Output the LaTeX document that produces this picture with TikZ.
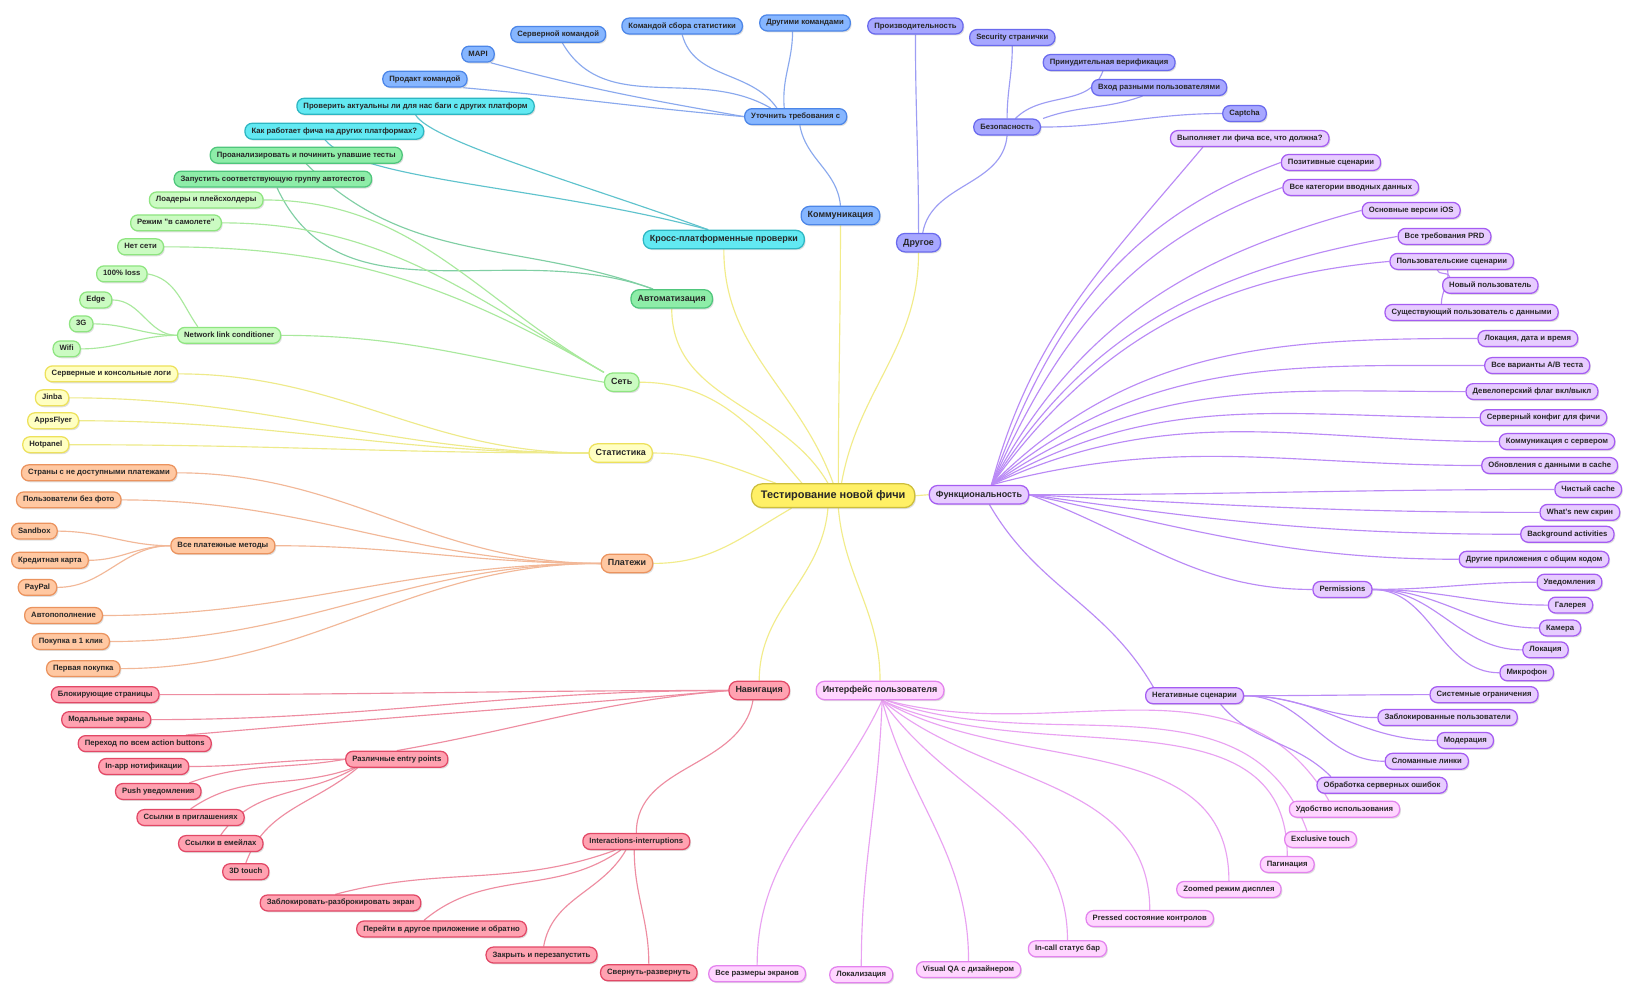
\documentclass[tikz,border=0pt]{standalone}
\usepackage{fontspec}
\setmainfont{Liberation Sans}
\usepackage{tikz}
\usetikzlibrary{shadows, backgrounds}

\newcommand{\leafsize}{\fontsize{7.4}{8.5}\selectfont\bfseries}
\newcommand{\topicsize}{\fontsize{8.6}{10}\selectfont\bfseries}
\newcommand{\rootsize}{\fontsize{10.5}{12}\selectfont\bfseries}

\begin{document}
\begin{tikzpicture}[x=1pt, y=1pt,
  box/.style={rounded corners=7pt, line width=1.2pt, inner xsep=6.3pt, inner ysep=4.2pt,
    text height=5.4pt, text depth=1.5pt, text=black!85, font=\leafsize,
    drop shadow={shadow xshift=1.2pt, shadow yshift=-1.4pt, opacity=.25}},
  topic/.style={font=\topicsize, rounded corners=8pt, inner ysep=4.8pt, text height=6.3pt, text depth=1.8pt},
  rootBox/.style={box, font=\rootsize, fill=rootBg, draw=rootFg, rounded corners=10pt,
    inner xsep=9pt, inner ysep=6.5pt, text height=7.6pt, text depth=2.2pt},
  commBox/.style={box, fill=commBg, draw=commFg},
  crossBox/.style={box, fill=crossBg, draw=crossFg},
  autoBox/.style={box, fill=autoBg, draw=autoFg},
  netBox/.style={box, fill=netBg, draw=netFg},
  statBox/.style={box, fill=statBg, draw=statFg},
  payBox/.style={box, fill=payBg, draw=payFg},
  navBox/.style={box, fill=navBg, draw=navFg},
  uiBox/.style={box, fill=uiBg, draw=uiFg},
  funcBox/.style={box, fill=funcBg, draw=funcFg},
  otherBox/.style={box, fill=otherBg, draw=otherFg},
  rootLine/.style={draw=rootLn, line width=1.1pt},
  commLine/.style={draw=commLn, line width=1.1pt},
  crossLine/.style={draw=crossLn, line width=1.1pt},
  autoLine/.style={draw=autoLn, line width=1.1pt},
  netLine/.style={draw=netLn, line width=1.1pt},
  statLine/.style={draw=statLn, line width=1.1pt},
  payLine/.style={draw=payLn, line width=1.1pt},
  navLine/.style={draw=navLn, line width=1.1pt},
  uiLine/.style={draw=uiLn, line width=1.1pt},
  funcLine/.style={draw=funcLn, line width=1.1pt},
  otherLine/.style={draw=otherLn, line width=1.1pt}]
\definecolor{rootBg}{HTML}{FFF066}  \definecolor{rootFg}{HTML}{CDBE3C}  \definecolor{rootLn}{HTML}{F2EC8A}
\definecolor{commBg}{HTML}{86B6FF}  \definecolor{commFg}{HTML}{4C86E8}  \definecolor{commLn}{HTML}{8AA9EE}
\definecolor{crossBg}{HTML}{62E9F2} \definecolor{crossFg}{HTML}{2DB6C2} \definecolor{crossLn}{HTML}{5FC3CD}
\definecolor{autoBg}{HTML}{8EEDA8}  \definecolor{autoFg}{HTML}{4FC67C}  \definecolor{autoLn}{HTML}{80CFA4}
\definecolor{netBg}{HTML}{CBFBC2}   \definecolor{netFg}{HTML}{8EE580}   \definecolor{netLn}{HTML}{A9E99D}
\definecolor{statBg}{HTML}{FFFFC2}  \definecolor{statFg}{HTML}{EDE15B}  \definecolor{statLn}{HTML}{EEEA8A}
\definecolor{payBg}{HTML}{FFC8A2}   \definecolor{payFg}{HTML}{EB935E}   \definecolor{payLn}{HTML}{F2B898}
\definecolor{navBg}{HTML}{FFA2B1}   \definecolor{navFg}{HTML}{E24866}   \definecolor{navLn}{HTML}{EE8DA1}
\definecolor{uiBg}{HTML}{FFD5FF}    \definecolor{uiFg}{HTML}{E383EE}    \definecolor{uiLn}{HTML}{E9A2F2}
\definecolor{funcBg}{HTML}{E7CCFF}  \definecolor{funcFg}{HTML}{A55CF2}  \definecolor{funcLn}{HTML}{BA8AF6}
\definecolor{otherBg}{HTML}{A7A7FF} \definecolor{otherFg}{HTML}{6A6AEE} \definecolor{otherLn}{HTML}{9D9DF4}
\useasboundingbox (0,0) rectangle (1568,-953);

% root and main topics
\node[rootBox] (root) at (800,-476) {Тестирование новой фичи};
\node[commBox, topic] (comm) at (807,-207) {Коммуникация};
\node[crossBox, topic] (cross) at (695,-230) {Кросс-платформенные проверки};
\node[autoBox, topic] (autom) at (645,-287) {Автоматизация};
\node[netBox, topic] (net) at (597,-367) {Сеть};
\node[statBox, topic] (stat) at (596,-435) {Статистика};
\node[payBox, topic] (pay) at (602,-541) {Платежи};
\node[navBox, topic] (nav) at (729,-663) {Навигация};
\node[uiBox, topic] (ui) at (845,-663) {Интерфейс пользователя};
\node[funcBox, topic] (func) at (940,-475) {Функциональность};
\node[otherBox, topic] (other) at (882,-233) {Другое};

% communication
\node[commBox] (utoch) at (764,-112) {Уточнить требования с};
\node[commBox] (srvteam) at (536,-33) {Серверной командой};
\node[commBox] (statteam) at (655,-25) {Командой сбора статистики};
\node[commBox] (otherteams) at (773,-22) {Другими командами};
\node[commBox] (mapi) at (459,-52) {MAPI};
\node[commBox] (prodteam) at (408,-76) {Продакт командой};

% cross-platform, automation
\node[crossBox] (chk) at (399,-102) {Проверить актуальны ли для нас баги с других платформ};
\node[crossBox] (how) at (321,-126) {Как работает фича на других платформах?};
\node[autoBox] (analyze) at (294,-149) {Проанализировать и починить упавшие тесты};
\node[autoBox] (launch) at (262,-172) {Запустить соответствующую группу автотестов};

% network
\node[netBox] (loaders) at (198,-192) {Лоадеры и плейсхолдеры};
\node[netBox] (plane) at (169,-214) {Режим "в самолете"};
\node[netBox] (nonet) at (135,-237) {Нет сети};
\node[netBox] (nlc) at (220,-322) {Network link conditioner};
\node[netBox] (loss) at (117,-263) {100\% loss};
\node[netBox] (sEdge) at (92,-288) {Edge};
\node[netBox] (g3) at (78,-311) {3G};
\node[netBox] (wifi) at (64,-335) {Wifi};

% statistics
\node[statBox] (logs) at (107,-359) {Серверные и консольные логи};
\node[statBox] (jinba) at (50,-382) {Jinba};
\node[statBox] (apps) at (51,-404) {AppsFlyer};
\node[statBox] (hotp) at (44,-427) {Hotpanel};

% payments
\node[payBox] (countries) at (95,-454) {Страны с не доступными платежами};
\node[payBox] (nophoto) at (66,-480) {Пользователи без фото};
\node[payBox] (methods) at (214,-524) {Все платежные методы};
\node[payBox] (sandbox) at (33,-510) {Sandbox};
\node[payBox] (card) at (48,-538) {Кредитная карта};
\node[payBox] (paypal) at (36,-564) {PayPal};
\node[payBox] (autopay) at (61,-591) {Автопополнение};
\node[payBox] (oneclick) at (68,-616) {Покупка в 1 клик};
\node[payBox] (firstbuy) at (80,-642) {Первая покупка};

% navigation
\node[navBox] (blocking) at (101,-667) {Блокирующие страницы};
\node[navBox] (modal) at (102,-691) {Модальные экраны};
\node[navBox] (actions) at (139,-714) {Переход по всем action buttons};
\node[navBox] (entry) at (381,-729) {Различные entry points};
\node[navBox] (inapp) at (138,-736) {In-app нотификации};
\node[navBox] (push) at (152,-760) {Push уведомления};
\node[navBox] (invite) at (183,-785) {Ссылки в приглашениях};
\node[navBox] (email) at (212,-810) {Ссылки в емейлах};
\node[navBox] (touch) at (236,-837) {3D touch};
\node[navBox] (inter) at (611,-808) {Interactions-interruptions};
\node[navBox] (lockscr) at (327,-867) {Заблокировать-разброкировать экран};
\node[navBox] (switchapp) at (424,-892) {Перейти в другое приложение и обратно};
\node[navBox] (restart) at (520,-917) {Закрыть и перезапустить};
\node[navBox] (minim) at (623,-934) {Свернуть-развернуть};

% user interface
\node[uiBox] (sizes) at (727,-935) {Все размеры экранов};
\node[uiBox] (locz) at (827,-936) {Локализация};
\node[uiBox] (vqa) at (930,-931) {Visual QA с дизайнером};
\node[uiBox] (incall) at (1025,-911) {In-call статус бар};
\node[uiBox] (pressed) at (1104,-882) {Pressed состояние контролов};
\node[uiBox] (zoomed) at (1180,-854) {Zoomed режим дисплея};
\node[uiBox] (pagin) at (1236,-830) {Пагинация};
\node[uiBox] (excl) at (1268,-806) {Exclusive touch};
\node[uiBox] (usab) at (1291,-777) {Удобство использования};

% functionality
\node[funcBox] (does) at (1200,-133) {Выполняет ли фича все, что должна?};
\node[funcBox] (positive) at (1278,-156) {Позитивные сценарии};
\node[funcBox] (inputs) at (1297,-180) {Все категории вводных данных};
\node[funcBox] (ios) at (1355,-202) {Основные версии iOS};
\node[funcBox] (prd) at (1387,-227) {Все требования PRD};
\node[funcBox] (userscen) at (1394,-251) {Пользовательские сценарии};
\node[funcBox] (newuser) at (1431,-274) {Новый пользователь};
\node[funcBox] (olduser) at (1413,-300) {Существующий пользователь с данными};
\node[funcBox] (locdt) at (1467,-325) {Локация, дата и время};
\node[funcBox] (abtest) at (1476,-351) {Все варианты A/B теста};
\node[funcBox] (devflag) at (1471,-376) {Девелоперский флаг вкл/выкл};
\node[funcBox] (srvcfg) at (1482,-401) {Серверный конфиг для фичи};
\node[funcBox] (srvcomm) at (1495,-424) {Коммуникация с сервером};
\node[funcBox] (cacheupd) at (1488,-447) {Обновления с данными в cache};
\node[funcBox] (cleancache) at (1525,-470) {Чистый cache};
\node[funcBox] (whatsnew) at (1517,-492) {What's new скрин};
\node[funcBox] (bgact) at (1505,-513) {Background activities};
\node[funcBox] (sharedcode) at (1473,-537) {Другие приложения с общим кодом};
\node[funcBox] (perm) at (1289,-566) {Permissions};
\node[funcBox] (notif) at (1507,-559) {Уведомления};
\node[funcBox] (gallery) at (1508,-581) {Галерея};
\node[funcBox] (camera) at (1498,-603) {Камера};
\node[funcBox] (geoloc) at (1484,-624) {Локация};
\node[funcBox] (mic) at (1466,-646) {Микрофон};
\node[funcBox] (neg) at (1147,-668) {Негативные сценарии};
\node[funcBox] (syslim) at (1425,-667) {Системные ограничения};
\node[funcBox] (blocked) at (1390,-689) {Заблокированные пользователи};
\node[funcBox] (moder) at (1407,-711) {Модерация};
\node[funcBox] (broken) at (1370,-731) {Сломанные линки};
\node[funcBox] (srverr) at (1327,-754) {Обработка серверных ошибок};

% other
\node[otherBox] (perf) at (879,-25) {Производительность};
\node[otherBox] (secpage) at (972,-36) {Security странички};
\node[otherBox] (sec) at (967,-122) {Безопасность};
\node[otherBox] (forcever) at (1065,-60) {Принудительная верификация};
\node[otherBox] (multiuser) at (1113,-84) {Вход разными пользователями};
\node[otherBox] (captcha) at (1195,-109) {Captcha};

\begin{scope}[on background layer]
\fill[white] (0,0) rectangle (1568,-953);

% from the root
\draw[rootLine] ([xshift=5]root.north) to[out=90,in=-90] (comm.south);
\draw[rootLine] (root.north) to[out=110,in=-90] (cross.south);
\draw[rootLine] ([xshift=-5]root.north) to[out=120,in=-90] (autom.south);
\draw[rootLine] ([xshift=8]root.north) to[out=80,in=-90] (other.south);
\draw[rootLine] ([xshift=-30]root.north) to[out=130,in=0] (net.east);
\draw[rootLine] ([xshift=-55]root.north) to[out=160,in=0] (stat.east);
\draw[rootLine] ([xshift=-40]root.south) to[out=-150,in=0] (pay.east);
\draw[rootLine] ([xshift=-5]root.south) to[out=-95,in=90] (nav.north);
\draw[rootLine] ([xshift=5]root.south) to[out=-85,in=90] (ui.north);
\draw[rootLine] (root.east) -- (func.west);

% communication
\draw[commLine] (comm.north) to[out=95,in=-80] ([xshift=4]utoch.south);
\draw[commLine] ([xshift=-11]utoch.north) to[out=95,in=-90] ([xshift=-12]otherteams.south);
\draw[commLine] ([xshift=-18]utoch.north) to[out=125,in=-75] (statteam.south);
\draw[commLine] ([xshift=-24]utoch.north) to[out=150,in=-60] ([xshift=4]srvteam.south);
\draw[commLine] (utoch.west) to[out=170,in=-15] ([xshift=-4]mapi.south east);
\draw[commLine] (utoch.west) to[out=175,in=-5] ([xshift=-4]prodteam.south east);

% cross-platform, automation
\draw[crossLine] ([xshift=-15]cross.north) to[out=160,in=-60,out looseness=1.1,in looseness=0.25] (chk.south);
\draw[crossLine] ([xshift=-15]cross.north) to[out=165,in=-50,out looseness=1.1,in looseness=0.35] ([xshift=-9]how.south);
\draw[autoLine] ([xshift=-18]autom.north) to[out=160,in=-45] (analyze.south);
\draw[autoLine] ([xshift=-18]autom.north) to[out=160,in=-65] ([xshift=4]launch.south);

% network
\foreach \c in {loaders,plane,nonet}
  \draw[netLine] (net.north west) to[out=150,in=0] (\c.east);
\draw[netLine] (net.west) to[out=170,in=0] (nlc.east);
\draw[netLine] ([xshift=20]nlc.north west) to[out=125,in=-10] (loss.east);
\foreach \c in {sEdge,g3,wifi}
  \draw[netLine] (nlc.west) to[out=180,in=0] (\c.east);

% statistics, payments
\foreach \c in {logs,jinba,apps,hotp}
  \draw[statLine] (stat.west) to[out=180,in=0] (\c.east);
\foreach \c in {countries,nophoto,methods,autopay,oneclick,firstbuy}
  \draw[payLine] (pay.west) to[out=180,in=0] (\c.east);
\foreach \c in {sandbox,card,paypal}
  \draw[payLine] (methods.west) to[out=180,in=0] (\c.east);

% navigation
\foreach \c in {blocking,modal}
  \draw[navLine] (nav.west) to[out=180,in=0] (\c.east);
\draw[navLine] (nav.west) to[out=185,in=5] ([xshift=-25]actions.north east);
\draw[navLine] (nav.west) to[out=185,in=10] (entry.north);
\draw[navLine] ([xshift=-6]nav.south) to[out=-100,in=90] (inter.north);
\draw[navLine] (entry.west) to[out=180,in=0] (inapp.east);
\draw[navLine] (entry.west) to[out=190,in=20] ([xshift=-12]push.north east);
\draw[navLine] ([xshift=8]entry.south west) to[out=200,in=35] (invite.north);
\draw[navLine] ([xshift=10]entry.south west) to[out=210,in=55] (email.north);
\draw[navLine] ([xshift=12]entry.south west) to[out=220,in=70] (touch.north);
\draw[navLine] ([xshift=-20]inter.south) to[out=200,in=15] ([xshift=-5]lockscr.north);
\draw[navLine] ([xshift=-15]inter.south) to[out=215,in=40] ([xshift=-17]switchapp.north);
\draw[navLine] ([xshift=-10]inter.south) to[out=240,in=80] ([xshift=2]restart.north);
\draw[navLine] ([xshift=-2]inter.south) to[out=-90,in=90] (minim.north);

% user interface
\foreach \c/\o in {sizes/-115, locz/-92, vqa/-75, incall/-55, pressed/-40, zoomed/-30, pagin/-25}
  \draw[uiLine] ([xshift=2]ui.south) to[out=\o,in=90] (\c.north);
\draw[uiLine] ([xshift=6]ui.south) to[out=-20,in=110] ([xshift=-13]excl.north);
\draw[uiLine] ([xshift=6]ui.south) to[out=-15,in=120] ([xshift=-15]usab.north);

% functionality
\draw[funcLine] ([xshift=12]func.north) to[out=75,in=-130] ([xshift=-45]does.south);
\foreach \c/\o/\i in {positive/70/200, inputs/66/200, ios/62/195, prd/58/190, userscen/54/185,
    locdt/45/180, abtest/40/180, devflag/35/180, srvcfg/30/180, srvcomm/25/180, cacheupd/15/180}
  \draw[funcLine] ([xshift=12]func.north) to[out=\o,in=\i] (\c.west);
\foreach \c/\o in {cleancache/0, whatsnew/-3, bgact/-8, sharedcode/-12, perm/-20}
  \draw[funcLine] (func.east) to[out=\o,in=180] (\c.west);
\draw[funcLine] ([xshift=10]func.south) to[out=-60,in=120] ([xshift=8]neg.north west);
\draw[funcLine] ([xshift=-14]userscen.south) to[out=-80,in=100] ([xshift=-39]newuser.north);
\draw[funcLine] ([xshift=-4]userscen.south) to[out=-80,in=90] ([xshift=-29]olduser.north);
\foreach \c in {notif,gallery,camera,geoloc,mic}
  \draw[funcLine] (perm.east) to[out=0,in=180] (\c.west);
\foreach \c in {syslim,blocked,moder,broken}
  \draw[funcLine] (neg.east) to[out=0,in=180] (\c.west);
\draw[funcLine] ([xshift=25]neg.south) to[out=-50,in=135] ([xshift=14]srverr.north west);

% other
\draw[otherLine] (other.north) to[out=90,in=-90] (perf.south);
\draw[otherLine] ([xshift=4]other.north) to[out=80,in=-95] (sec.south);
\draw[otherLine] (sec.north) to[out=90,in=-90] (secpage.south);
\draw[otherLine] ([xshift=8]sec.north) to[out=45,in=-110] ([xshift=-6]forcever.south);
\draw[otherLine] ([xshift=2]sec.north east) to[out=20,in=-160] ([xshift=-16]multiuser.south);
\draw[otherLine] (sec.east) to[out=0,in=180] (captcha.west);
\end{scope}
\end{tikzpicture}
\end{document}
